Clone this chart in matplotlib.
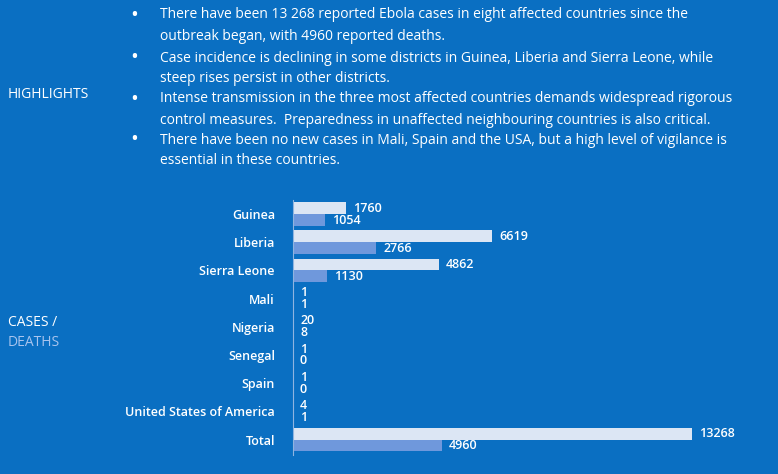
import matplotlib
matplotlib.use("Agg")
import matplotlib.pyplot as plt

countries = ["Guinea", "Liberia", "Sierra Leone", "Mali", "Nigeria", "Senegal", "Spain",
             "United States of America", "Total"]
cases = [1760, 6619, 4862, 1, 20, 1, 1, 4, 13268]
deaths = [1054, 2766, 1130, 1, 8, 0, 0, 1, 4960]
highlights = [
    ["There have been 13 268 reported Ebola cases in eight affected countries since the",
     "outbreak began, with 4960 reported deaths."],
    ["Case incidence is declining in some districts in Guinea, Liberia and Sierra Leone, while",
     "steep rises persist in other districts."],
    ["Intense transmission in the three most affected countries demands widespread rigorous",
     "control measures.  Preparedness in unaffected neighbouring countries is also critical."],
    ["There have been no new cases in Mali, Spain and the USA, but a high level of vigilance is",
     "essential in these countries."],
]

BG = "#0a6fc2"
CASE_C = "#dce6f4"
DEATH_C = "#6f98dc"
plt.rcParams['font.family'] = ['Open Sans', 'DejaVu Sans']

fig = plt.figure(figsize=(7.78, 4.74), dpi=100, facecolor=BG)
W, H = 778, 474

line_y = [15, 37, 58, 78, 99, 120, 140, 161]
k = 0
for para in highlights:
    for j, line in enumerate(para):
        y = 1 - line_y[k] / H
        if j == 0:
            fig.text(130 / W, y, "•", color="white", fontsize=15, va="center")
        fig.text(160 / W, y, line, color="white", fontsize=10, va="center")
        k += 1
fig.text(8 / W, 1 - 95 / H, "HIGHLIGHTS", color="white", fontsize=10, va="center")
fig.text(8 / W, 1 - 322 / H, "CASES /", color="white", fontsize=10, va="center")
fig.text(8 / W, 1 - 343 / H, "DEATHS", color="#a8c4ee", fontsize=10, va="center")

ax = fig.add_axes([293 / W, 1 - 455 / H, 399 / W, 255 / H])
ax.set_facecolor(BG)
n = len(countries)
ys = list(range(n))
h = 0.42
ax.barh([y - h / 2 for y in ys], cases, height=h, color=CASE_C)
ax.barh([y + h / 2 for y in ys], deaths, height=h, color=DEATH_C)
ax.set_xlim(0, 13268)
ax.set_ylim(n - 0.5 + 0.05, -0.5)
off = 13268 * 7 / 399
for y, c, d in zip(ys, cases, deaths):
    ax.text(c + off, y - h / 2, str(c), color="white", fontsize=9, va="center",
            fontweight="semibold", clip_on=False)
    ax.text(d + off, y + h / 2, str(d), color="white", fontsize=9, va="center",
            fontweight="semibold", clip_on=False)
ax.set_yticks(ys)
ax.set_yticklabels(countries, color="white", fontsize=9, fontweight="semibold")
ax.tick_params(axis="y", length=0, pad=13)
ax.set_xticks([])
for s in ["top", "right", "bottom"]:
    ax.spines[s].set_visible(False)
ax.spines["left"].set_color("#8fb4e0")

fig.savefig("out.png", dpi=100, facecolor=BG)
